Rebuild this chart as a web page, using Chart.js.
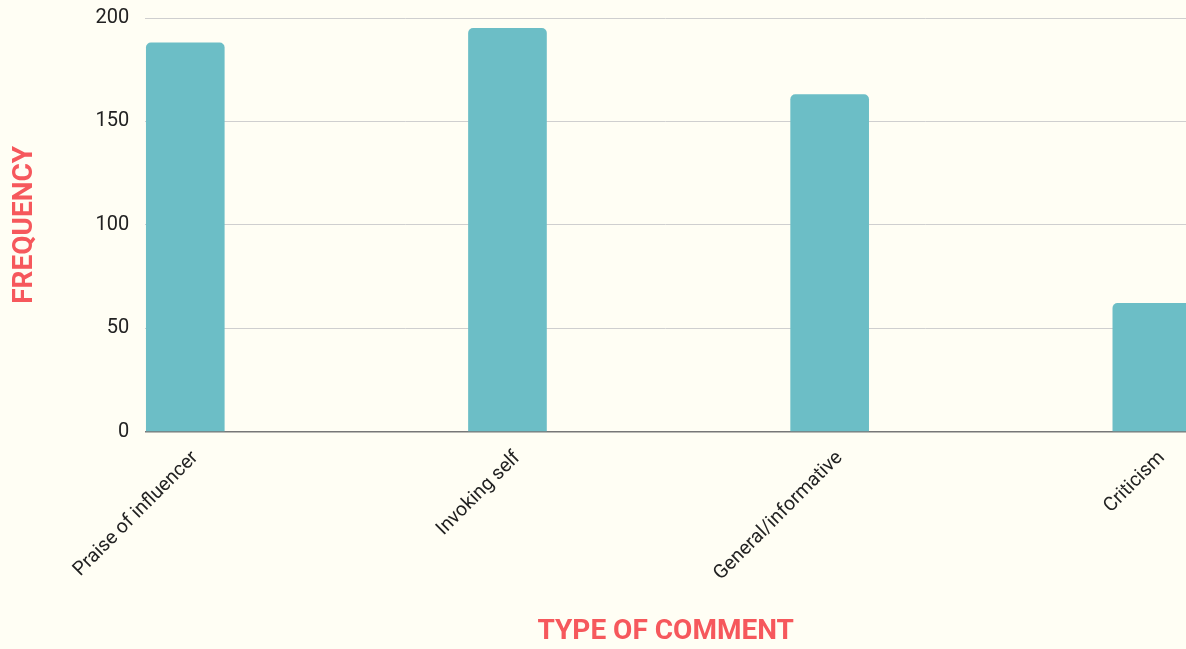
<!DOCTYPE html>
<html>
<head>
<meta charset="utf-8">
<script src="https://cdn.jsdelivr.net/npm/chart.js@4.4.0/dist/chart.umd.min.js"></script>
<style>
  html, body { margin: 0; padding: 0; background: #fffef4; overflow: hidden; }
  #wrap { width: 1186px; height: 649px; position: relative; }
</style>
</head>
<body>
<div id="wrap"><canvas id="barChart"></canvas></div>
<script>
const categories = ['Praise of influencer', 'Invoking self', 'General/informative', 'Criticism'];
const frequency = [188, 195, 163, 62];
const yTicks = [0, 50, 100, 150, 200];

const red = '#f6585c';
const teal = 'rgb(108, 190, 198)';

Chart.defaults.font.family = 'Roboto';

const ctx_bar = document.querySelector('#barChart').getContext('2d');

// bars sit on a linear x so the slots can start left like the original
let points = categories.map((c, i) => ({x: i, y: frequency[i]}));

new Chart(ctx_bar, {
    type: 'bar',
    data: {
        datasets: [{
            data: points,
            backgroundColor: teal,
            borderRadius: 5,
            barThickness: 78,
        }]
    },
    options: {
        responsive: true,
        maintainAspectRatio: false,
        animation: false,
        layout: { padding: { top: 18, right: 0, left: 0, bottom: 0 } },
        plugins: { legend: { display: false }, tooltip: { enabled: false } },
        scales: {
            x: {
                type: 'linear',
                offset: false,
                min: -0.124,
                max: 3.106,
                afterBuildTicks: s => { s.ticks = categories.map((c, i) => ({value: i})); },
                grid: { display: false },
                border: { color: '#777', width: 1.5 },
                ticks: {
                    color: '#222',
                    font: { size: 19.5 },
                    maxRotation: 45,
                    minRotation: 45,
                    padding: 7,
                    labelOffset: 10,
                    callback: v => categories[v],
                },
                title: {
                    display: true,
                    text: 'TYPE OF COMMENT',
                    color: red,
                    font: { size: 28, weight: 'bold' },
                    padding: { top: 23, bottom: 0 },
                },
            },
            y: {
                min: 0,
                max: 200,
                afterBuildTicks: s => { s.ticks = yTicks.map(v => ({value: v})); },
                grid: {
                    color: c => c.tick.value === 0 ? '#777' : '#cfcfcf',
                    drawTicks: true,
                    tickLength: 13,
                    tickColor: 'rgba(0,0,0,0)',
                },
                border: { display: false },
                ticks: { color: '#222', font: { size: 20 }, padding: 3 },
                title: {
                    display: true,
                    text: 'FREQUENCY',
                    color: red,
                    font: { size: 28, weight: 'bold' },
                    padding: { top: 8, bottom: 51 },
                },
            },
        },
    },
});
</script>
</body>
</html>
